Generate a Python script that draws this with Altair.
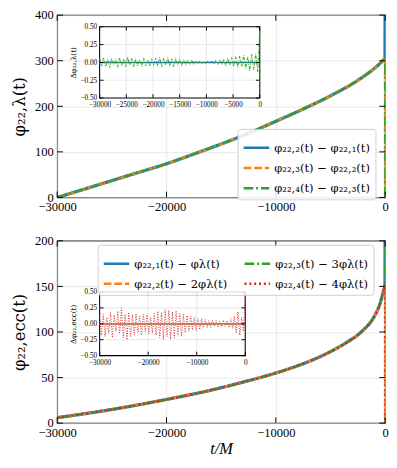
import altair as alt
import pandas as pd

# ------------------------------------------------------------------ data
x_ticks_main = [-30000, -20000, -10000, 0]
y_ticks_top = [0, 100, 200, 300, 400]
y_ticks_bot = [0, 50, 100, 150, 200]
inset_top_xticks = [-30000, -25000, -20000, -15000, -10000, -5000, 0]
inset_bot_xticks = [-30000, -20000, -10000, 0]
inset_yticks = [-0.5, -0.25, 0.0, 0.25, 0.5]

top_labels = ["φ₂₂,₂(t) − φ₂₂,₁(t)", "φ₂₂,₃(t) − φ₂₂,₂(t)", "φ₂₂,₄(t) − φ₂₂,₃(t)"]
top_t = [-30000, -27000, -23500, -20000, -16500, -13300, -10000, -7500, -5000, -2500, -1000, -300, -10]
top_phi = [0, 22, 48, 74, 104, 133, 167, 194, 223, 257, 283, 298, 305]
top_end = [600, -100, -100]  # value reached at t = 0

bot_labels = ["φ₂₂,₁(t) − φλ(t)", "φ₂₂,₂(t) − 2φλ(t)", "φ₂₂,₃(t) − 3φλ(t)", "φ₂₂,₄(t) − 4φλ(t)"]
bot_t = [-30000, -25000, -20000, -16000, -13000, -10000, -8000, -6500, -5000, -3600, -2100, -1000, -500, -200, -10]
bot_phi = [6, 15, 26, 36, 45, 55, 63, 70, 78.5, 88, 101, 117, 130, 143, 152]
bot_end = [300, -100, 300, -100]

noise_t = list(range(-30000, 1, 375)) + [0]
top_noise = [0.06, -0.05, 0.07, -0.06, 0.04, -0.07, 0.06, -0.04, 0.05, -0.07,
             0.07, -0.05, 0.05, -0.06, 0.08, -0.04, 0.06, -0.06, 0.05, -0.05,
             0.04, -0.06, 0.06, -0.05, 0.03, -0.05, 0.05, -0.04, 0.06, -0.05,
             0.07, -0.06, 0.06, -0.04, 0.07, -0.05, 0.05, -0.06, 0.06, -0.04,
             0.05, -0.05, 0.04, -0.04, 0.04, -0.03, 0.03, -0.03, 0.02, -0.02,
             0.02, -0.02, 0.01, -0.02, 0.02, -0.01, 0.02, -0.02, 0.03, -0.03,
             0.04, -0.03, 0.05, -0.05, 0.06, -0.04, 0.07, -0.06, 0.08, -0.07,
             0.09, -0.06, 0.10, -0.09, 0.08, -0.12, 0.11, -0.10, 0.12, -0.13,
             0.45, -0.42]
bot_noise = [0.12, -0.18, 0.15, -0.20, 0.10, -0.15, 0.18, -0.22, 0.14, -0.12,
             0.20, -0.16, 0.25, -0.22, 0.15, -0.25, 0.18, -0.20, 0.14, -0.18,
             0.16, -0.14, 0.12, -0.18, 0.15, -0.12, 0.14, -0.16, 0.10, -0.15,
             0.16, -0.18, 0.20, -0.22, 0.18, -0.25, 0.22, -0.20, 0.21, -0.24,
             0.19, -0.22, 0.20, -0.18, 0.16, -0.20, 0.15, -0.14, 0.13, -0.12,
             0.12, -0.10, 0.10, -0.11, 0.08, -0.09, 0.08, -0.06, 0.07, -0.06,
             0.05, -0.06, 0.06, -0.04, 0.05, -0.05, 0.04, -0.05, 0.06, -0.04,
             0.05, -0.06, 0.08, -0.07, 0.12, -0.15, 0.19, -0.18, 0.10, -0.12,
             0.50, -0.50]
flat_t = [-30000, 0]
flat_v = [0.0, 0.0]

BLUE, ORANGE, GREEN, RED = "#1f77b4", "#ff7f0e", "#2ca02c", "#d62728"

# ------------------------------------------------------------------ layout / style
W, H = 340, 189
FONT = "Liberation Serif"
MATH = "DejaVu Serif"
GRID = "#e2e2e2"
TL = 6


def main_x(title=None):
    return alt.X("t:Q", scale=alt.Scale(domain=[-30000, 0], nice=False, zero=False),
                 axis=alt.Axis(orient="bottom", values=x_ticks_main, format="d", grid=True, ticks=False,
                               domain=False, labelFontSize=13, labelPadding=4, labelFlush=False,
                               labelOverlap=False, title=title, titleFont=FONT, titleFontSize=17,
                               titleFontStyle="italic", titleFontWeight="normal", titlePadding=1))


def main_y(dom, vals, title):
    return alt.Y("v:Q", scale=alt.Scale(domain=dom, nice=False, zero=False),
                 axis=alt.Axis(orient="left", values=vals, format="d", grid=True, ticks=False,
                               domain=False, labelFontSize=13, labelPadding=4, labelFlush=False,
                               labelOverlap=False, title=title, titleFont=MATH, titleFontSize=17,
                               titleFontWeight="normal", titlePadding=6))


def curves(ts, base, ends, labels, order, colors, dashes, widths, xenc, yenc, legend):
    cs = alt.Scale(domain=order, range=colors)
    ds = alt.Scale(domain=order, range=dashes)
    out = []
    for k, lab in enumerate(labels):
        df = pd.DataFrame({"t": ts + [0], "v": base + [ends[k]], "s": lab,
                           "i": list(range(len(ts) + 1))})
        out.append(alt.Chart(df).mark_line(strokeWidth=widths[k], interpolate="monotone", clip=True).encode(
            x=xenc, y=yenc, order="i:Q",
            color=alt.Color("s:N", scale=cs, legend=legend),
            strokeDash=alt.StrokeDash("s:N", scale=ds, legend=legend)))
    return out


def frame_ticks(xenc, yenc, yvals):
    xdf = pd.DataFrame({"t": x_ticks_main})
    ydf = pd.DataFrame({"v": yvals})
    bx = alt.Chart(xdf).mark_rule(color="black", strokeWidth=1)
    by = alt.Chart(ydf).mark_rule(color="black", strokeWidth=1)
    return [bx.encode(x=xenc, y=alt.value(H), y2=alt.value(H - TL)),
            bx.encode(x=xenc, y=alt.value(0), y2=alt.value(TL)),
            by.encode(y=yenc, x=alt.value(0), x2=alt.value(TL)),
            by.encode(y=yenc, x=alt.value(W), x2=alt.value(W - TL))]


def inset(xt, il, ir, it, ib, flats, noise_vals, noise_color, noise_dash, ytitle):
    ix = alt.X("t:Q", scale=alt.Scale(domain=[-30000, 0], range=[il, ir], nice=False, zero=False),
               axis=alt.Axis(orient="bottom", offset=ib - H, values=xt, format="d", grid=False,
                             ticks=False, domain=False, labelFontSize=7.5, labelPadding=3,
                             labelFlush=False, labelOverlap=False, title=None))
    iy = alt.Y("v:Q", scale=alt.Scale(domain=[-0.5, 0.5], range=[ib, it], nice=False, zero=False),
               axis=alt.Axis(orient="left", offset=-il, values=inset_yticks, format=".2f", grid=False,
                             ticks=False, domain=False, labelFontSize=7.5, labelPadding=3,
                             labelFlush=False, labelOverlap=False, title=ytitle, titleFont=MATH,
                             titleFontSize=7.5, titleFontWeight="normal", titlePadding=3))
    box = pd.DataFrame({"t": [-30000], "t2": [0], "v": [-0.5], "v2": [0.5]})
    layers = [alt.Chart(box).mark_rect(fill="white", stroke="black", strokeWidth=1.1).encode(
        x=ix, x2="t2:Q", y=iy, y2="v2:Q")]
    gx = pd.DataFrame({"t": xt[1:-1]})
    gy = pd.DataFrame({"v": inset_yticks[1:-1]})
    layers.append(alt.Chart(gx).mark_rule(color=GRID, strokeWidth=0.8).encode(
        x=ix, y=alt.value(it), y2=alt.value(ib)))
    layers.append(alt.Chart(gy).mark_rule(color=GRID, strokeWidth=0.8).encode(
        y=iy, x=alt.value(il), x2=alt.value(ir)))
    for col, w in flats:
        layers.append(alt.Chart(pd.DataFrame({"t": flat_t, "v": flat_v})).mark_line(
            color=col, strokeWidth=w).encode(x=ix, y=iy))
    nd = pd.DataFrame({"t": noise_t, "v": noise_vals, "i": list(range(len(noise_vals)))})
    layers.append(alt.Chart(nd).mark_line(color=noise_color, strokeWidth=1, strokeDash=noise_dash).encode(
        x=ix, y=iy, order="i:Q"))
    tx = pd.DataFrame({"t": xt})
    ty = pd.DataFrame({"v": inset_yticks})
    bx = alt.Chart(tx).mark_rule(color="black", strokeWidth=1)
    by = alt.Chart(ty).mark_rule(color="black", strokeWidth=1)
    layers += [bx.encode(x=ix, y=alt.value(ib), y2=alt.value(ib - 4)),
               bx.encode(x=ix, y=alt.value(it), y2=alt.value(it + 4)),
               by.encode(y=iy, x=alt.value(il), x2=alt.value(il + 4)),
               by.encode(y=iy, x=alt.value(ir), x2=alt.value(ir - 4))]
    return layers


def legend(x, y, cols=1):
    return alt.Legend(orient="none", legendX=x, legendY=y, title=None, columns=cols, columnPadding=12,
                      direction="vertical",
                      symbolType="stroke", symbolSize=700, symbolStrokeWidth=2.5, labelFont=MATH,
                      labelFontSize=12, labelColor="black", labelLimit=0,
                      fillColor="rgba(255,255,255,0.85)", strokeColor="#cfcfcf", cornerRadius=3,
                      padding=5, rowPadding=0)


SOLID, DASH, DASHDOT, DOT = [1, 0], [8, 3], [10, 3, 2, 3], [2, 3]

# ------------------------------------------------------------------ top panel
xt_ = main_x()
yt_ = main_y([0, 400], y_ticks_top, "φ₂₂,λ(t)")
top_main = alt.layer(
    *curves(top_t, top_phi, top_end, top_labels, top_labels,
            [BLUE, ORANGE, GREEN], [SOLID, DASH, DASHDOT], [3.4, 2.6, 2.1],
            xt_, yt_, legend(187, 118)),
    *frame_ticks(xt_, yt_, y_ticks_top))
top_inset = alt.layer(*inset(inset_top_xticks, 44, 210, 12, 86, [(BLUE, 1.6)],
                             top_noise, GREEN, [3, 1.5, 1, 1.5], "Δφ₂₂,λ(t)"))
top = alt.layer(top_main, top_inset).resolve_scale(x="independent", y="independent").properties(
    width=W, height=H)

# ------------------------------------------------------------------ bottom panel
xb_ = main_x("t/M")
yb_ = main_y([0, 200], y_ticks_bot, "φ₂₂,ecc(t)")
bot_main = alt.layer(
    *curves(bot_t, bot_phi, bot_end, bot_labels, bot_labels,
            [BLUE, ORANGE, GREEN, RED], [SOLID, DASH, DASHDOT, DOT], [3.4, 2.6, 2.1, 2.1],
            xb_, yb_, legend(42, 4, 2)),
    *frame_ticks(xb_, yb_, y_ticks_bot))
bot_inset = alt.layer(*inset(inset_bot_xticks, 44, 195, 53, 119, [(BLUE, 1.6), (ORANGE, 1.6)],
                             bot_noise, RED, [1, 1.6], "Δφ₂₂,ecc(t)"))
bottom = alt.layer(bot_main, bot_inset).resolve_scale(x="independent", y="independent").properties(
    width=W, height=H)

chart = alt.vconcat(top, bottom, spacing=45, bounds="flush").resolve_scale(
    x="independent", y="independent", color="independent", strokeDash="independent"
).properties(padding={"left": 2, "top": -8, "right": 0, "bottom": 0}).configure_view(
    stroke="black", strokeWidth=1.2
).configure_axis(
    labelFont=FONT, labelColor="black", titleColor="black", gridColor=GRID, gridWidth=0.8
)

chart.save("out.html", embed_options={"renderer": "svg", "actions": False})
